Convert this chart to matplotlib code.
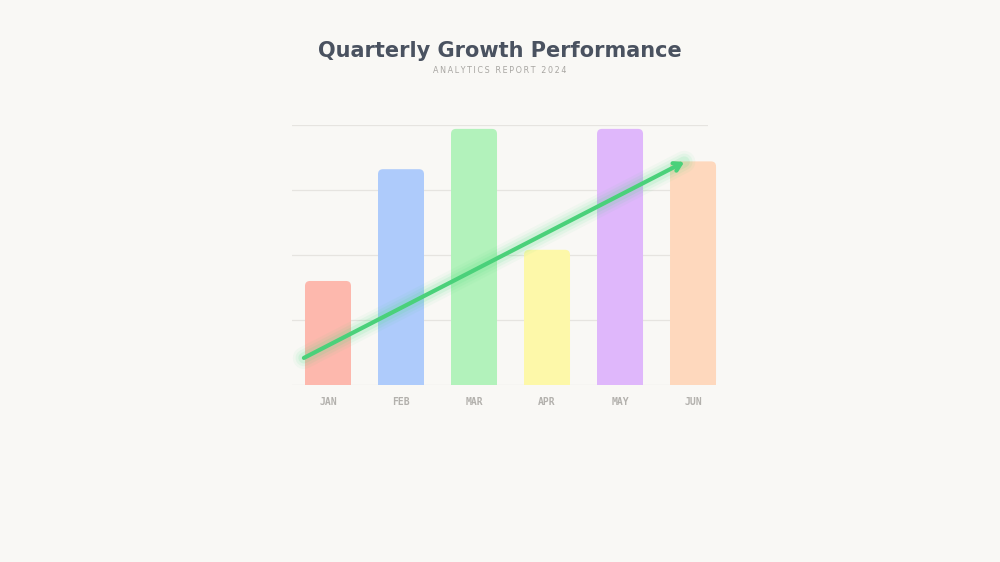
import numpy as np
import matplotlib.pyplot as plt
from matplotlib.patches import FancyBboxPatch, Rectangle

# chart data
months = ["JAN", "FEB", "MAR", "APR", "MAY", "JUN"]
values = [40, 83, 98.5, 52, 98.5, 86]
bar_colors = ["#fdb8ad", "#aecbfb", "#b2f2bb", "#fdf8a9", "#dfb7fb", "#fed8bd"]
trend_x = [-0.33, 4.88]
trend_y = [10.4, 85.8]
grid_levels = [0, 25, 50, 75, 100]

bg = "#f9f8f5"
fig = plt.figure(figsize=(10, 5.62), dpi=100, facecolor=bg)
ax = fig.add_axes([0.292, 0.315, 0.416, 0.4626])
ax.set_facecolor(bg)

ax.set_xlim(-0.493, 5.205)
ax.set_ylim(0, 100)

for g in grid_levels:
    ax.axhline(g, color="#e6e4e0", lw=0.9, zorder=0)

# rounded-top bars
width = 0.63
px_x = 1 / 73.0
px_y = 100 / 260.0
r = 5 * px_x
for i, (v, c) in enumerate(zip(values, bar_colors)):
    left = i - width / 2
    top = FancyBboxPatch((left, 0), width, v,
                         boxstyle=f"round,pad=0,rounding_size={r}",
                         mutation_aspect=px_y / px_x,
                         fc=c, ec="none", zorder=2, clip_on=False)
    ax.add_patch(top)
    ax.add_patch(Rectangle((left, 0), width, v / 2, fc=c, ec="none",
                           zorder=2, clip_on=False))

# trend arrow with glow
for lw, a in [(16, 0.05), (12, 0.08), (8, 0.12)]:
    ax.plot(trend_x, trend_y, color="#4ade80", lw=lw, alpha=a,
            solid_capstyle="round", zorder=3, clip_on=False)
ax.annotate("", xy=(trend_x[1], trend_y[1]), xytext=(trend_x[0], trend_y[0]),
            arrowprops=dict(arrowstyle="->,head_length=0.5,head_width=0.3",
                            color="#4ad17a", lw=3, capstyle="round",
                            shrinkA=0, shrinkB=0),
            zorder=4, annotation_clip=False)

ax.set_xticks(range(len(months)))
ax.set_xticklabels(months, family="DejaVu Sans Mono", fontsize=7,
                   fontweight="bold", color="#b3b1ad")
ax.tick_params(axis="x", length=0, pad=9)
ax.set_yticks([])
for s in ax.spines.values():
    s.set_visible(False)

fig.text(0.5, 0.91, "Quarterly Growth Performance", ha="center", va="center",
         fontsize=15, fontweight="bold", color="#4a5260")
subtitle = "ANALYTICS REPORT 2024"
fig.text(0.5, 0.875, "\u2009".join(subtitle), ha="center", va="center",
         fontsize=5.8, color="#a8a6a2")

fig.savefig("out.png", dpi=100, facecolor=bg)
